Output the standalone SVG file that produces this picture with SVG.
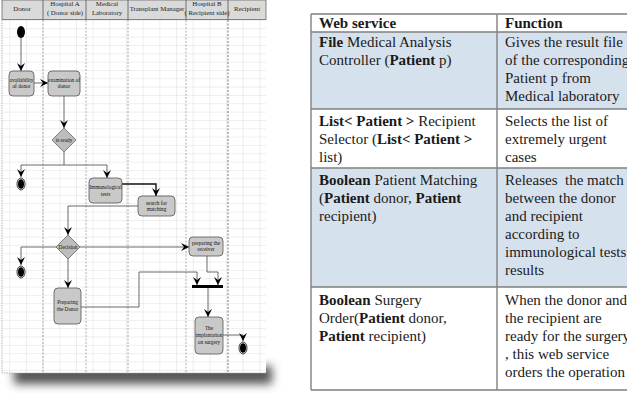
<svg xmlns="http://www.w3.org/2000/svg" width="627" height="404" viewBox="0 0 627 404">
<style>
.hdr{font-family:"Liberation Serif",serif;font-size:6.8px;fill:#222;text-anchor:middle}
.lbl{font-family:"Liberation Serif",serif;font-size:5.3px;fill:#111;text-anchor:middle}
.act{fill:#c9c9c9;stroke:#555;stroke-width:0.8}
.dia{fill:#bdbdbd;stroke:#666;stroke-width:0.8}
.lane{stroke:#888;stroke-width:0.7;stroke-dasharray:2,1.5}
.con{fill:none;stroke:#444;stroke-width:0.8}
.thick{fill:none;stroke:#111;stroke-width:1.4}
.tt{font-family:"Liberation Serif",serif;font-size:15px;fill:#1a1a1a}
.b{font-weight:bold}
.cell{stroke:#808080;stroke-width:1.4}
.blue{fill:#d6e1ee}
.white{fill:#ffffff}
</style>
<defs>
<pattern id="grid" patternUnits="userSpaceOnUse" x="9.33" y="20" width="16.67" height="8.33">
<path d="M0,0 V8.33 M0,0 H16.67" fill="none" stroke="#c8c8c8" stroke-width="0.6"/>
</pattern>
<marker id="arr" markerUnits="userSpaceOnUse" markerWidth="9" markerHeight="9" refX="8" refY="4.5" orient="auto">
<path d="M0,0.5 L8,4.5 L0,8.5 L3,4.5 z" fill="#000"/>
</marker>
<filter id="sh" x="-10%" y="-50%" width="120%" height="200%">
<feGaussianBlur stdDeviation="5"/>
</filter>
</defs>

<!-- shadow -->
<rect x="14" y="366" width="258" height="18" fill="#555" filter="url(#sh)"/>

<!-- swimlane frame -->
<g id="lanes">
<rect x="2" y="0" width="264" height="373" fill="#fff"/>
<rect x="2" y="20" width="264" height="353" fill="url(#grid)"/>
<rect x="2" y="0" width="264" height="19.5" fill="#dadada" stroke="#666" stroke-width="0.8"/>
<path d="M43,0 V19.5 M86,0 V19.5 M128,0 V19.5 M186,0 V19.5 M228,0 V19.5" stroke="#555" stroke-width="0.8"/>
<path class="lane" d="M43,20 V373 M86,20 V373 M128,20 V373 M186,20 V373"/>
<path d="M228,20 V373" stroke="#555" stroke-width="0.8" stroke-dasharray="2,1.5"/>
<path d="M2,20 V373 H266" fill="none" stroke="#999" stroke-width="0.7" stroke-dasharray="1.5,1"/>
<text class="hdr" x="22" y="10.5">Donor</text>
<text class="hdr" x="65" y="5.5">Hospital A</text>
<text class="hdr" x="65" y="15">( Donor side)</text>
<text class="hdr" x="107" y="5.5">Medical</text>
<text class="hdr" x="107" y="15">Laboratory</text>
<text class="hdr" x="157" y="10.5">Transplant Manager</text>
<text class="hdr" x="207" y="5.5">Hospital B</text>
<text class="hdr" x="207" y="15">( Recipient side)</text>
<text class="hdr" x="247" y="10.5">Recipient</text>
</g>

<g id="connectors">
<path class="con" d="M21,38 V71" marker-end="url(#arr)"/>
<path class="con" d="M34,83 H48" marker-end="url(#arr)"/>
<path class="con" d="M64,96 V128" marker-end="url(#arr)"/>
<path class="con" d="M64,152 V165"/>
<path class="con" d="M64,165 H21 V177" marker-end="url(#arr)"/>
<path class="con" d="M64,165 H107 V178" marker-end="url(#arr)"/>
<path class="thick" d="M122,184 H156 V196" marker-end="url(#arr)"/>
<path class="con" d="M138,206 H68 V235" marker-end="url(#arr)"/>
<path class="con" d="M56,247 H21 V265" marker-end="url(#arr)"/>
<path class="con" d="M80,247 H189" marker-end="url(#arr)"/>
<path class="con" d="M68,259 V288" marker-end="url(#arr)"/>
<path class="con" d="M81,307 H139 V272 H197 V285" marker-end="url(#arr)"/>
<path class="con" d="M207,256 V272 H218 V285" marker-end="url(#arr)"/>
<path class="con" d="M208,288 V317" marker-end="url(#arr)"/>
<path class="con" d="M223,335 H243 V341" marker-end="url(#arr)"/>
</g>

<g id="start"><ellipse cx="21" cy="32" rx="4" ry="6" fill="#000"/></g>

<g id="availability">
<rect class="act" x="9" y="71" width="25" height="25" rx="4"/>
<text class="lbl" x="21.5" y="82">availability</text>
<text class="lbl" x="21.5" y="88">of donor</text>
</g>

<g id="examination">
<rect class="act" x="48" y="71" width="32" height="25" rx="4"/>
<text class="lbl" x="64" y="82">examination of</text>
<text class="lbl" x="64" y="88">donor</text>
</g>

<g id="isready">
<polygon class="dia" points="64,128 76,140 64,152 52,140"/>
<text class="lbl" x="64" y="142">is ready</text>
</g>

<g id="end1">
<ellipse cx="21" cy="184" rx="4" ry="6" fill="#fff" stroke="#000" stroke-width="0.8"/>
<ellipse cx="21" cy="184" rx="3" ry="4.8" fill="#000"/>
</g>

<g id="immuno">
<rect class="act" x="89" y="178" width="33" height="25" rx="4"/>
<text class="lbl" x="105.5" y="189">Immunological</text>
<text class="lbl" x="105.5" y="196">tests</text>
</g>

<g id="search">
<rect class="act" x="138" y="196" width="37" height="20" rx="4"/>
<text class="lbl" x="156.5" y="205">search for</text>
<text class="lbl" x="156.5" y="211">matching</text>
</g>

<g id="decision">
<polygon class="dia" points="68,235 80,247 68,259 56,247"/>
<text class="lbl" x="68" y="249">Decision</text>
</g>

<g id="end2">
<ellipse cx="21" cy="272" rx="4" ry="6" fill="#fff" stroke="#000" stroke-width="0.8"/>
<ellipse cx="21" cy="272" rx="3" ry="4.8" fill="#000"/>
</g>

<g id="receiver">
<rect class="act" x="189" y="237" width="34" height="19" rx="4"/>
<text class="lbl" x="206" y="245">preparing the</text>
<text class="lbl" x="206" y="251">receiver</text>
</g>

<g id="donorprep">
<rect class="act" x="54" y="288" width="27" height="36" rx="4"/>
<text class="lbl" x="67.5" y="304">Preparing</text>
<text class="lbl" x="67.5" y="311">the Donor</text>
</g>

<g id="sync"><rect x="192" y="285" width="31" height="3" fill="#000"/></g>

<g id="implant">
<rect class="act" x="195" y="317" width="28" height="37" rx="4"/>
<text class="lbl" x="209" y="330">The</text>
<text class="lbl" x="209" y="337">implantation</text>
<text class="lbl" x="209" y="344">on surgery</text>
</g>

<g id="end3">
<ellipse cx="243" cy="348" rx="4" ry="6" fill="#fff" stroke="#000" stroke-width="0.8"/>
<ellipse cx="243" cy="348" rx="3" ry="4.8" fill="#000"/>
</g>

<!-- table -->
<g id="table">
<rect class="white" x="311" y="14" width="330" height="18"/>
<rect class="blue" x="311" y="32" width="330" height="77"/>
<rect class="white" x="311" y="109" width="330" height="59"/>
<rect class="blue" x="311" y="168" width="330" height="119"/>
<rect class="white" x="311" y="287" width="330" height="103"/>
<path class="cell" fill="none" d="M311,14 H640 M311,32 H640 M311,109 H640 M311,168 H640 M311,287 H640 M311,390 H640 M311,14 V390 M497,14 V390"/>

<text class="tt b" x="319" y="28">Web service</text>
<text class="tt b" x="505" y="28">Function</text>

<text class="tt" x="319" y="47"><tspan class="b">File</tspan> Medical Analysis</text>
<text class="tt" x="319" y="65">Controller (<tspan class="b">Patient</tspan> p)</text>
<text class="tt" x="505" y="47">Gives the result file</text>
<text class="tt" x="505" y="65">of the corresponding</text>
<text class="tt" x="505" y="83">Patient p from</text>
<text class="tt" x="505" y="101">Medical laboratory</text>

<text class="tt" x="319" y="126"><tspan class="b">List&lt; Patient &gt;</tspan> Recipient</text>
<text class="tt" x="319" y="144">Selector (<tspan class="b">List&lt; Patient &gt;</tspan></text>
<text class="tt" x="319" y="162">list)</text>
<text class="tt" x="505" y="126">Selects the list of</text>
<text class="tt" x="505" y="144">extremely urgent</text>
<text class="tt" x="505" y="162">cases</text>

<text class="tt" x="319" y="185"><tspan class="b">Boolean</tspan> Patient Matching</text>
<text class="tt" x="319" y="203">(<tspan class="b">Patient</tspan> donor, <tspan class="b">Patient</tspan></text>
<text class="tt" x="319" y="221">recipient)</text>
<text class="tt" x="505" y="185" style="white-space:pre">Releases  the match</text>
<text class="tt" x="505" y="203">between the donor</text>
<text class="tt" x="505" y="221">and recipient</text>
<text class="tt" x="505" y="239">according to</text>
<text class="tt" x="505" y="257">immunological tests</text>
<text class="tt" x="505" y="275">results</text>

<text class="tt" x="319" y="305"><tspan class="b">Boolean</tspan> Surgery</text>
<text class="tt" x="319" y="323">Order(<tspan class="b">Patient</tspan> donor,</text>
<text class="tt" x="319" y="341"><tspan class="b">Patient</tspan> recipient)</text>
<text class="tt" x="505" y="305">When the donor and</text>
<text class="tt" x="505" y="323">the recipient are</text>
<text class="tt" x="505" y="341">ready for the surgery</text>
<text class="tt" x="505" y="359">, this web service</text>
<text class="tt" x="505" y="377">orders the operation</text>
</g>
</svg>
